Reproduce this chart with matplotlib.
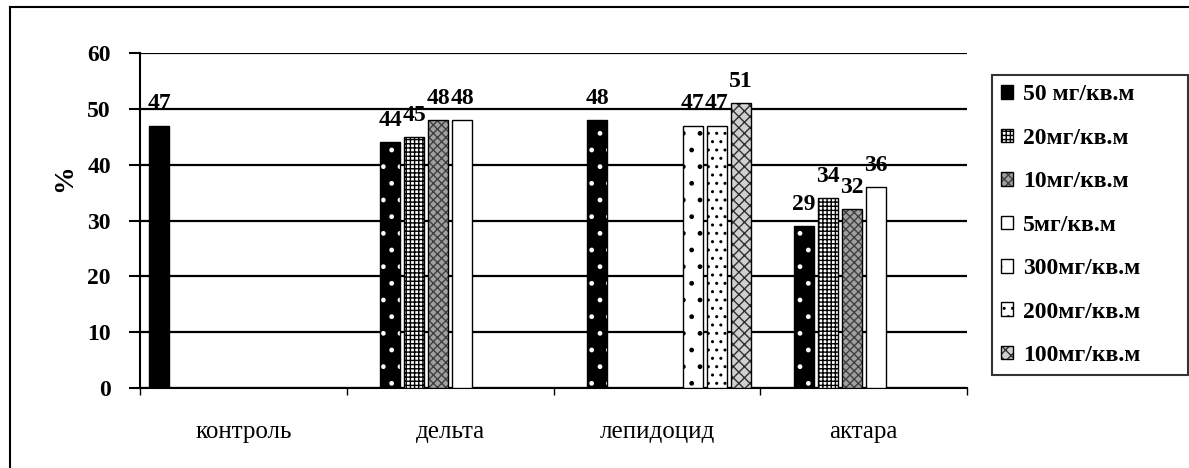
import numpy as np
import matplotlib.pyplot as plt
from matplotlib.patches import Patch
from matplotlib.lines import Line2D
from matplotlib.legend_handler import HandlerTuple

plt.rcParams['font.family'] = ['Liberation Serif', 'DejaVu Serif']
plt.rcParams['hatch.linewidth'] = 1.0

categories = ['контроль', 'дельта', 'лепидоцид', 'актара']
series_names = ['контроль', '50 мг/кв.м', '20мг/кв.м', '10мг/кв.м', '5мг/кв.м',
                '300мг/кв.м', '200мг/кв.м', '100мг/кв.м']
nan = np.nan
values = [
    [47, nan, nan, nan],   # контроль
    [nan, 44, 48, 29],     # 50 мг
    [nan, 45, nan, 34],    # 20 мг
    [nan, 48, nan, 32],    # 10 мг
    [nan, 48, nan, 36],    # 5 мг
    [nan, nan, 47, nan],   # 300 мг
    [nan, nan, 47, nan],   # 200 мг
    [nan, nan, 51, nan],   # 100 мг
]
yticks = [0, 10, 20, 30, 40, 50, 60]

# face color, hatch, hatch color
styles = [
    ('black', None, 'black'),
    ('black', '.', 'white'),
    ('white', '++++', 'black'),
    ('#a0a0a0', 'xxxx', '#404040'),
    ('white', None, 'black'),
    ('white', '.', 'black'),
    ('white', '..', 'black'),
    ('#d0d0d0', 'xxx', '#303030'),
]

W, H = 1189, 468
fig = plt.figure(figsize=(W / 100, H / 100), dpi=100)
ax = fig.add_axes([140 / W, 1 - 388 / H, 827 / W, 335 / H])

slot = 24 / 207
width = 20 / 207
first = -0.5 + (7.5 + 12) / 207
x = np.arange(len(categories))

handles = []
for k, (name, vals) in enumerate(zip(series_names, values)):
    fc, hatch, hc = styles[k]
    pos = x + first + k * slot
    v = np.array(vals, dtype=float)
    ax.bar(pos, v, width, color=fc, edgecolor=hc, hatch=hatch, linewidth=0, zorder=3)
    ax.bar(pos, v, width, fill=False, edgecolor='black', linewidth=1.0, zorder=4)
    for xi, vi in zip(pos, v):
        if not np.isnan(vi):
            ax.annotate(f'{vi:.0f}', (xi, vi), xytext=(0, 8), textcoords='offset points',
                        ha='center', va='bottom', fontsize=17, fontweight='bold')
    if k > 0:
        handles.append((Patch(facecolor=fc, edgecolor=hc, hatch=hatch, linewidth=0),
                        Patch(fill=False, edgecolor='black', linewidth=1.0)))

ax.set_xlim(-0.5, 3.5)
ax.set_ylim(0, 60)
ax.set_yticks(yticks)
ax.yaxis.grid(True, color='black', linewidth=1.6, zorder=0)
ax.set_axisbelow(True)
for lab in ax.get_yticklabels():
    lab.set_fontweight('bold')
ax.tick_params(axis='y', labelsize=17, length=8, width=1.5, direction='out', pad=13)

ax.set_xticks(np.arange(-0.5, 4.0, 1.0))
ax.set_xticklabels([])
ax.tick_params(axis='x', which='major', length=5, width=1, direction='out')
ax.set_xticks(x, minor=True)
ax.set_xticklabels(categories, minor=True, fontsize=18)
ax.tick_params(axis='x', which='minor', length=0, pad=24)

for s in ['top', 'right']:
    ax.spines[s].set_visible(False)
ax.spines['left'].set_linewidth(1.5)
ax.spines['bottom'].set_linewidth(1.5)

fig.text(65 / W, 1 - 178 / H, '%', rotation=90, fontsize=20, fontweight='bold',
         ha='center', va='center')

leg = fig.legend(handles, series_names[1:], handler_map={tuple: HandlerTuple(ndivide=1)},
                 loc='upper left', mode='expand',
                 bbox_to_anchor=(992 / W, 1 - 374 / H, 196 / W, 299 / H),
                 prop={'weight': 'bold', 'size': 17}, frameon=True, fancybox=False,
                 handlelength=0.5, handleheight=0.5, handletextpad=0.42,
                 labelspacing=0.95, borderpad=0.4, borderaxespad=0)
leg.get_frame().set_edgecolor('black')
leg.get_frame().set_linewidth(1.5)

# outer frame (left and top edges visible)
fig.add_artist(Line2D([10 / W, 10 / W], [0, 1 - 7 / H], transform=fig.transFigure,
                      color='black', linewidth=1.5))
fig.add_artist(Line2D([10 / W, 1], [1 - 7 / H, 1 - 7 / H], transform=fig.transFigure,
                      color='black', linewidth=1.5))

fig.savefig('out.png', dpi=100)
